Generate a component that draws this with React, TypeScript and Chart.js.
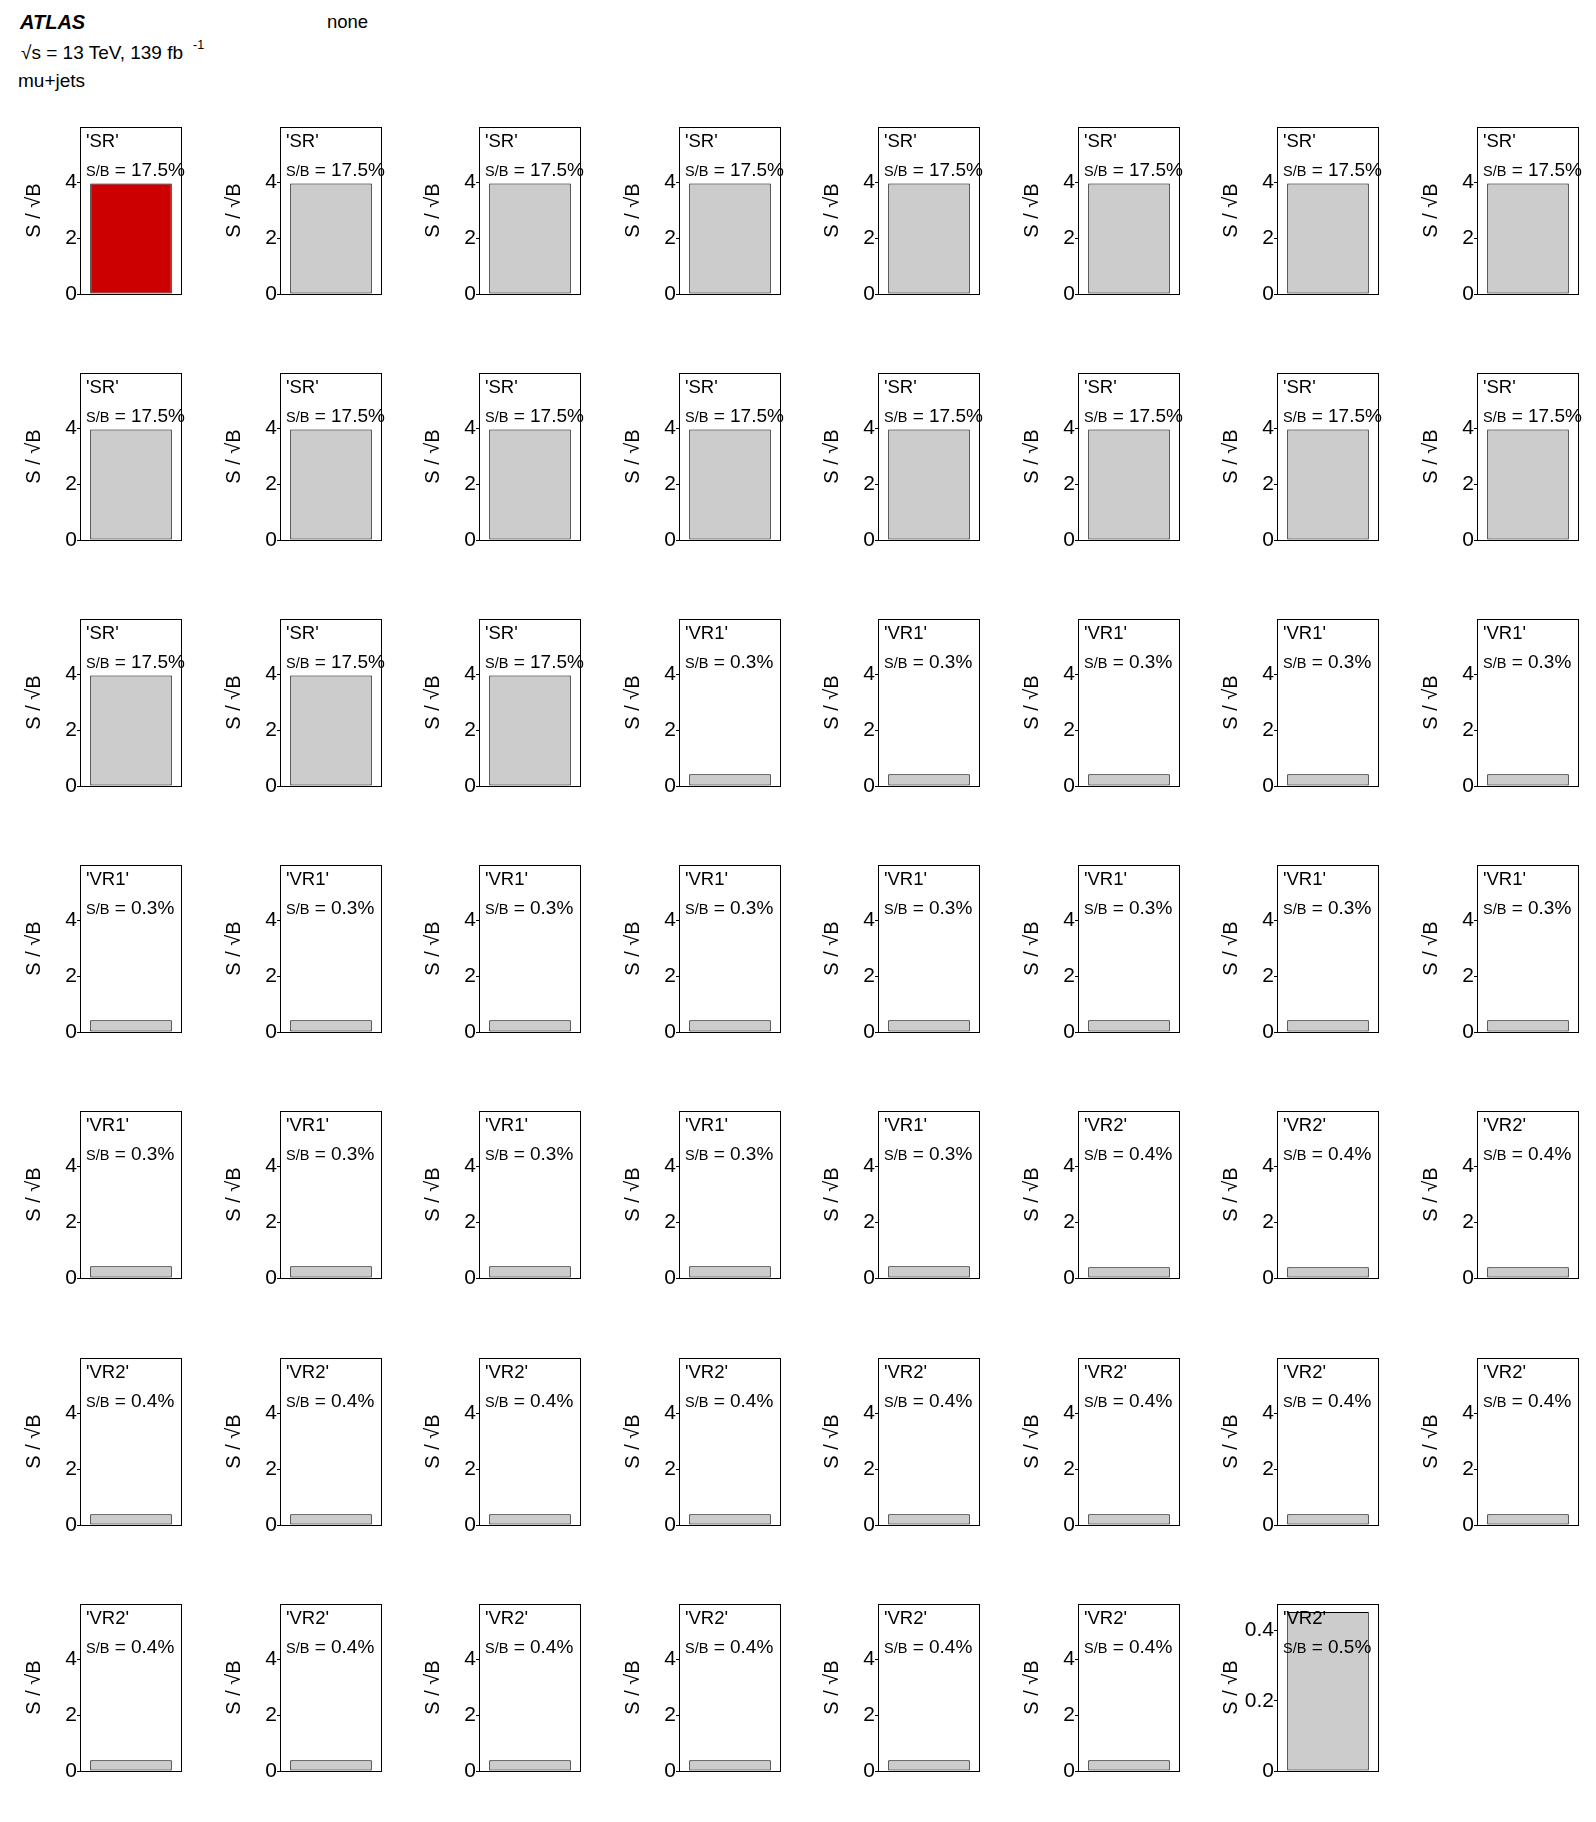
import React, { useEffect, useRef } from 'react';
import { Chart, registerables } from 'chart.js';

Chart.register(...registerables);

const FONT = '"Liberation Sans", Arial, Helvetica, sans-serif';

// ---- data ----
const regionLabels = [
  'SR', 'SR', 'SR', 'SR', 'SR', 'SR', 'SR', 'SR',
  'SR', 'SR', 'SR', 'SR', 'SR', 'SR', 'SR', 'SR',
  'SR', 'SR', 'SR', 'VR1', 'VR1', 'VR1', 'VR1', 'VR1',
  'VR1', 'VR1', 'VR1', 'VR1', 'VR1', 'VR1', 'VR1', 'VR1',
  'VR1', 'VR1', 'VR1', 'VR1', 'VR1', 'VR2', 'VR2', 'VR2',
  'VR2', 'VR2', 'VR2', 'VR2', 'VR2', 'VR2', 'VR2', 'VR2',
  'VR2', 'VR2', 'VR2', 'VR2', 'VR2', 'VR2', 'VR2',
];

const sbPercent = [
  17.5, 17.5, 17.5, 17.5, 17.5, 17.5, 17.5, 17.5,
  17.5, 17.5, 17.5, 17.5, 17.5, 17.5, 17.5, 17.5,
  17.5, 17.5, 17.5, 0.3, 0.3, 0.3, 0.3, 0.3,
  0.3, 0.3, 0.3, 0.3, 0.3, 0.3, 0.3, 0.3,
  0.3, 0.3, 0.3, 0.3, 0.3, 0.4, 0.4, 0.4,
  0.4, 0.4, 0.4, 0.4, 0.4, 0.4, 0.4, 0.4,
  0.4, 0.4, 0.4, 0.4, 0.4, 0.4, 0.5,
];

const significance = [
  3.97, 3.97, 3.97, 3.97, 3.97, 3.97, 3.97, 3.97,
  3.97, 3.97, 3.97, 3.97, 3.97, 3.97, 3.97, 3.97,
  3.97, 3.97, 3.97, 0.42, 0.42, 0.42, 0.42, 0.42,
  0.42, 0.42, 0.42, 0.42, 0.42, 0.42, 0.42, 0.42,
  0.42, 0.42, 0.42, 0.42, 0.42, 0.385, 0.385, 0.385,
  0.385, 0.385, 0.385, 0.385, 0.385, 0.385, 0.385, 0.385,
  0.385, 0.385, 0.385, 0.385, 0.385, 0.385, 0.453,
];

const yMaxList = [
  6, 6, 6, 6, 6, 6, 6, 6,
  6, 6, 6, 6, 6, 6, 6, 6,
  6, 6, 6, 6, 6, 6, 6, 6,
  6, 6, 6, 6, 6, 6, 6, 6,
  6, 6, 6, 6, 6, 6, 6, 6,
  6, 6, 6, 6, 6, 6, 6, 6,
  6, 6, 6, 6, 6, 6, 0.476,
];

const standardTicks = [0, 2, 4];
const smallTicks = [0, 0.2, 0.4];
const highlightedPanels = [0];
const highlightColor = '#cc0000';
const normalColor = '#cccccc';
const yAxisTitle = 'S / √B';

const NCOLS = 8;
const FRAME_X0 = 80;
const COL_PITCH = 199.5;
const FRAME_Y0 = 126.5;
const ROW_PITCH = 246.2;
const CANVAS_W = 200;
const CANVAS_H = 204;
const PAD_TOP = 15;
const PAD_BOTTOM = 22;
const PAD_RIGHT = 18;
const AXIS_W = 80;

const panelTextPlugin = {
  id: 'panelText',
  afterDatasetsDraw(chart: any, _args: any, opts: any) {
    const { ctx, chartArea } = chart;
    const { left, top, right, bottom } = chartArea;
    ctx.save();
    ctx.strokeStyle = '#000';
    ctx.lineWidth = 1;
    ctx.strokeRect(left + 0.5, top + 0.5, right - left - 1, bottom - top);
    ctx.fillStyle = '#000';
    ctx.textBaseline = 'alphabetic';
    ctx.textAlign = 'left';
    ctx.font = `18.5px ${FONT}`;
    ctx.fillText(`'${opts.region}'`, left + 6, top + 20);
    ctx.font = `14.5px ${FONT}`;
    const sb = 'S/B';
    ctx.fillText(sb, left + 6, top + 48.5);
    const w = ctx.measureText(sb).width;
    ctx.font = `19px ${FONT}`;
    ctx.fillText(` = ${opts.sb}%`, left + 6 + w, top + 48.5);
    ctx.restore();
  },
};

function Panel({ index }: { index: number }) {
  const ref = useRef<HTMLCanvasElement>(null);
  useEffect(() => {
    const canvas = ref.current;
    if (!canvas) return;
    const yMax = yMaxList[index];
    const tickVals = yMax < 1 ? smallTicks : standardTicks;
    const color = highlightedPanels.includes(index) ? highlightColor : normalColor;
    const chart = new Chart(canvas, {
      type: 'bar',
      data: {
        labels: [regionLabels[index]],
        datasets: [
          {
            data: [significance[index]],
            backgroundColor: color,
            borderColor: '#000',
            borderWidth: 1,
            borderSkipped: false,
            barPercentage: 0.8,
            categoryPercentage: 1,
          },
        ],
      },
      options: {
        responsive: false,
        animation: false,
        devicePixelRatio: 1,
        layout: { padding: { top: PAD_TOP, bottom: PAD_BOTTOM, right: PAD_RIGHT, left: 0 } },
        plugins: {
          legend: { display: false },
          tooltip: { enabled: false },
          title: { display: false },
          panelText: { region: regionLabels[index], sb: sbPercent[index] },
        } as any,
        scales: {
          x: { display: false },
          y: {
            min: 0,
            max: yMax,
            afterBuildTicks: (s: any) => {
              s.ticks = tickVals.map((v) => ({ value: v }));
            },
            afterFit: (s: any) => {
              s.width = AXIS_W;
            },
            ticks: {
              font: { family: FONT, size: 21 },
              color: '#000',
              padding: 0,
              callback: (v: any) => String(v),
            },
            grid: {
              drawOnChartArea: false,
              drawTicks: true,
              tickLength: 3,
              color: '#000',
            },
            border: { display: false },
            title: {
              display: true,
              text: yAxisTitle,
              font: { family: FONT, size: 20 },
              color: '#000',
              padding: { top: 22, bottom: 0 },
            },
          },
        },
      },
      plugins: [panelTextPlugin],
    });
    return () => chart.destroy();
  }, [index]);

  const col = index % NCOLS;
  const row = Math.floor(index / NCOLS);
  const left = Math.round(FRAME_X0 + col * COL_PITCH) - AXIS_W;
  const top = Math.round(FRAME_Y0 + row * ROW_PITCH) - PAD_TOP;
  return (
    <canvas
      ref={ref}
      width={CANVAS_W}
      height={CANVAS_H}
      style={{ position: 'absolute', left, top, width: CANVAS_W, height: CANVAS_H, display: 'block' }}
    />
  );
}

export default function App() {
  const txt: React.CSSProperties = {
    position: 'absolute',
    fontFamily: FONT,
    color: '#000',
    whiteSpace: 'nowrap',
    margin: 0,
  };
  return (
    <div style={{ position: 'absolute', left: 0, top: 0, width: 1596, height: 1822, background: '#fff', overflow: 'hidden' }}>
      <div style={{ ...txt, left: 20, top: 12, fontSize: 20, lineHeight: '20px', fontWeight: 'bold', fontStyle: 'italic' }}>ATLAS</div>
      <div style={{ ...txt, left: 327, top: 13, fontSize: 18.5, lineHeight: '18.5px' }}>none</div>
      <div style={{ ...txt, left: 21, top: 43, fontSize: 19, lineHeight: '19px' }}>√s = 13 TeV, 139 fb</div>
      <div style={{ ...txt, left: 193, top: 39, fontSize: 12.5, lineHeight: '12.5px' }}>-1</div>
      <div style={{ ...txt, left: 18, top: 71, fontSize: 19, lineHeight: '19px' }}>mu+jets</div>
      {regionLabels.map((_, i) => (
        <Panel key={i} index={i} />
      ))}
    </div>
  );
}
